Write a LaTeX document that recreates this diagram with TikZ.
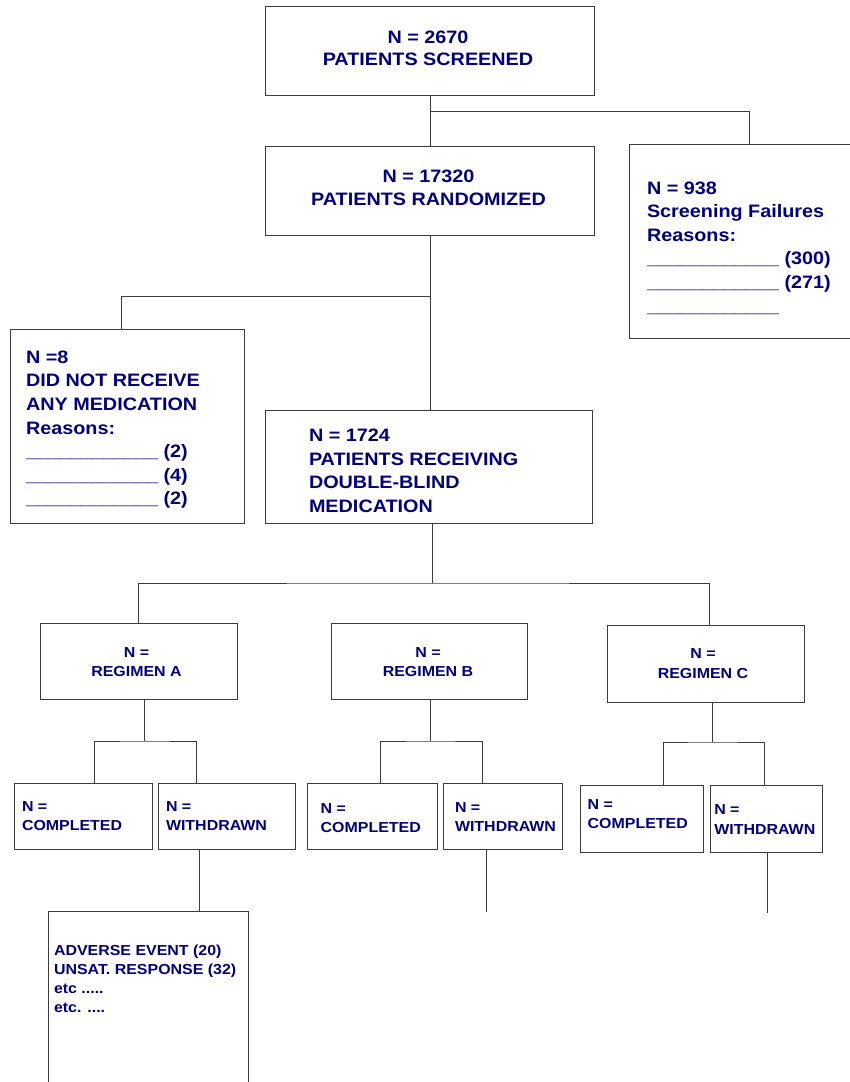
\documentclass[tikz,border=0pt]{standalone}
\usepackage{fontspec}
\setmainfont{Liberation Sans}[FakeStretch=1.1]
\usetikzlibrary{calc}
\definecolor{navy}{RGB}{0,0,128}
\definecolor{linegray}{RGB}{60,60,60}
\newcommand{\upstrut}{\rule{0pt}{14pt}}
\newcommand{\lostrut}{\rule{0pt}{12pt}}
\newcommand{\blank}{\_\_\_\_\_\_\_\_\_\_\_\_}
\tikzset{
  box/.style={draw=linegray, line width=1pt, rectangle, inner sep=0pt, outer sep=0pt, anchor=north west},
  bigtxt/.style={text=navy, font=\fontsize{18}{23.6}\selectfont\bfseries, inner sep=0pt, outer sep=0pt},
  toptxt/.style={bigtxt, font=\fontsize{18}{22.7}\selectfont\bfseries, anchor=north, align=center},
  smalltxt/.style={text=navy, font=\fontsize{14.5}{19}\selectfont\bfseries, inner sep=0pt, outer sep=0pt},
  conn/.style={draw=linegray, line width=1pt},
}
\begin{document}
\begin{tikzpicture}[x=1pt,y=-1pt]
\useasboundingbox (0,0) rectangle (850,1082);
% boxes
\node[box, minimum width=329pt, minimum height=89pt] (scr) at (265,6) {};
\node[box, minimum width=329pt, minimum height=89pt] (rand) at (265,146) {};
\node[box, minimum width=240pt, minimum height=194pt] (fail) at (629,144) {};
\node[box, minimum width=234pt, minimum height=194pt] (nomed) at (10,329) {};
\node[box, minimum width=327pt, minimum height=113pt] (rec) at (265,410) {};
\node[box, minimum width=197pt, minimum height=76pt] (regA) at (40,623) {};
\node[box, minimum width=196pt, minimum height=76pt] (regB) at (331,623) {};
\node[box, minimum width=197pt, minimum height=77pt] (regC) at (607,625) {};
\node[box, minimum width=138pt, minimum height=66pt] (compA) at (14,783) {};
\node[box, minimum width=137pt, minimum height=66pt] (withA) at (158,783) {};
\node[box, minimum width=130pt, minimum height=66pt] (compB) at (307,783) {};
\node[box, minimum width=119pt, minimum height=66pt] (withB) at (443,783) {};
\node[box, minimum width=123pt, minimum height=67pt] (compC) at (580,785) {};
\node[box, minimum width=112pt, minimum height=67pt] (withC) at (710,785) {};
\node[box, minimum width=200pt, minimum height=190pt] (bot) at (48,911) {};
% texts
\node[toptxt] (scrT) at (428,29) {\upstrut N = 2670\\PATIENTS SCREENED};
\node[toptxt] (randT) at (428.5,168.7) {\upstrut N = 17320\\PATIENTS RANDOMIZED};
\node[bigtxt, anchor=north west, align=left] (failT) at (647,180) {\upstrut N = 938\\Screening Failures\\Reasons:\\\blank{} (300)\\\blank{} (271)\\\blank};
\node[bigtxt, anchor=north west, align=left] (nomedT) at (26,349.3) {\upstrut N =8\\DID NOT RECEIVE\\ANY MEDICATION\\Reasons:\\\blank{} (2)\\\blank{} (4)\\\blank{} (2)};
\node[bigtxt, anchor=north west, align=left] (recT) at (309,427.7) {\upstrut N = 1724\\PATIENTS RECEIVING\\DOUBLE-BLIND\\MEDICATION};
\node[smalltxt, anchor=north, align=center] (regAT) at (136.5,645) {\lostrut N =\\REGIMEN A};
\node[smalltxt, anchor=north, align=center] (regBT) at (428,645) {\lostrut N =\\REGIMEN B};
\node[smalltxt, anchor=north, align=center, font=\fontsize{14.5}{20}\selectfont\bfseries] (regCT) at (703,646.3) {\lostrut N =\\REGIMEN C};
\node[smalltxt, anchor=north west, align=left] (compAT) at (22,799) {\lostrut N =\\COMPLETED};
\node[smalltxt, anchor=north west, align=left] (withAT) at (166,799) {\lostrut N =\\WITHDRAWN};
\node[smalltxt, anchor=north west, align=left] (compBT) at (320.7,801.3) {\lostrut N =\\COMPLETED};
\node[smalltxt, anchor=north west, align=left] (withBT) at (455,800.7) {\lostrut N =\\WITHDRAWN};
\node[smalltxt, anchor=north west, align=left] (compCT) at (587.7,797) {\lostrut N =\\COMPLETED};
\node[smalltxt, anchor=north west, align=left, font=\fontsize{14.5}{20.3}\selectfont\bfseries] (withCT) at (714.3,802) {\lostrut N =\\WITHDRAWN};
\node[smalltxt, anchor=north west, align=left] (botT) at (54,943) {\lostrut ADVERSE EVENT (20)\\UNSAT. RESPONSE (32)\\etc .....\\etc. ....};
% connectors
\coordinate (j1) at (430,111);
\draw[conn] (scr.south -| j1) -- (rand.north -| j1);
\draw[conn] (j1) -| (fail.north);
\coordinate (j2) at (430,296);
\draw[conn] (rand.south -| j2) -- (rec.north -| j2);
\draw[conn] (j2) -| ([xshift=111pt]nomed.north west);
\coordinate (j3) at (432,583);
\draw[conn] (rec.south -| j3) -- (j3);
\draw[conn] (regA.north) |- (j3) -| ([xshift=102pt]regC.north west);
\coordinate (jA) at (144,741);
\draw[conn] (regA.south -| jA) -- (jA);
\draw[conn] ([xshift=80pt]compA.north west) |- (jA) -| ([xshift=38pt]withA.north west);
\coordinate (jB) at (430,741);
\draw[conn] (regB.south -| jB) -- (jB);
\draw[conn] ([xshift=73pt]compB.north west) |- (jB) -| ([xshift=39pt]withB.north west);
\coordinate (jC) at (712,742);
\draw[conn] (regC.south -| jC) -- (jC);
\draw[conn] ([xshift=83pt]compC.north west) |- (jC) -| ([xshift=54pt]withC.north west);
\draw[conn] ([xshift=41pt]withA.south west) -- ([xshift=151pt]bot.north west);
\coordinate (endB) at (486,912);
\draw[conn] (withB.south -| endB) -- (endB);
\coordinate (endC) at (767,913);
\draw[conn] (withC.south -| endC) -- (endC);
\end{tikzpicture}
\end{document}
